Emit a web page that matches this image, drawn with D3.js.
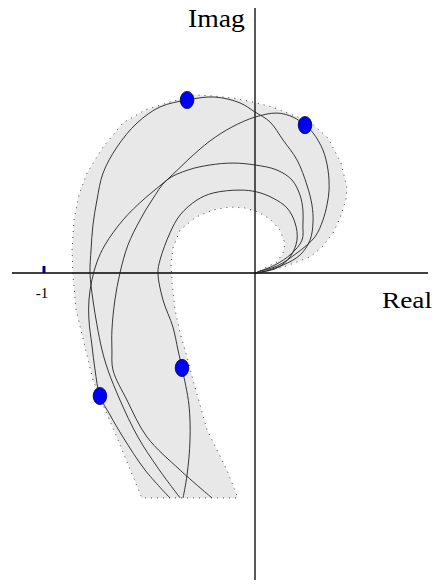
<!DOCTYPE html>
<html>
<head>
<meta charset="utf-8">
<script src="https://cdn.jsdelivr.net/npm/d3@7"></script>
<style>
  html, body { margin: 0; padding: 0; background: #fff; }
  svg { display: block; }
</style>
</head>
<body>
<svg id="chart" width="435" height="584"></svg>
<script>
// Nyquist plots of four plant cases with their value band, complex plane (Real, Imag)

const realExtent = [-1.152, 0.82];
const imagExtent = [-1.455, 1.256];
const tickValues = [-1];
const tickLabels = ["-1"];
const axisLabels = ["Real", "Imag"];

// Each curve: [re, im] from low to high frequency, ending at the origin
const curve1 = [
  [-0.355,-1.066],[-0.460,-0.924],[-0.555,-0.777],[-0.640,-0.602],[-0.697,-0.460],
  [-0.725,-0.365],[-0.749,-0.246],[-0.768,-0.128],[-0.782,0.000],[-0.777,0.109],
  [-0.768,0.227],[-0.749,0.346],[-0.720,0.474],[-0.654,0.597],[-0.559,0.711],
  [-0.450,0.787],[-0.322,0.820],[-0.190,0.834],[-0.071,0.806],[0.000,0.763],
  [0.071,0.716],[0.133,0.630],[0.199,0.536],[0.246,0.417],[0.270,0.322],
  [0.275,0.242],[0.261,0.156],[0.213,0.085],[0.133,0.038],[0.033,0.005],[0.005,0.000]
];
const curve2 = [
  [-0.403,-1.066],[-0.521,-0.934],[-0.626,-0.777],[-0.687,-0.673],[-0.735,-0.583],
  [-0.758,-0.460],[-0.773,-0.341],[-0.787,-0.223],[-0.787,-0.128],[-0.773,-0.033],
  [-0.749,0.052],[-0.711,0.133],[-0.626,0.251],[-0.521,0.355],[-0.417,0.441],
  [-0.318,0.536],[-0.213,0.626],[-0.109,0.692],[0.000,0.739],[0.104,0.758],
  [0.180,0.739],[0.237,0.701],[0.275,0.664],[0.322,0.583],[0.346,0.488],
  [0.351,0.393],[0.341,0.322],[0.322,0.251],[0.284,0.171],[0.199,0.095],
  [0.104,0.033],[0.014,0.005],[0.005,0.000]
];
const curve3 = [
  [-0.204,-1.066],[-0.355,-0.934],[-0.512,-0.777],[-0.607,-0.602],[-0.673,-0.460],
  [-0.678,-0.365],[-0.678,-0.270],[-0.664,-0.128],[-0.640,0.000],[-0.602,0.133],
  [-0.545,0.251],[-0.488,0.346],[-0.417,0.441],[-0.318,0.488],[-0.213,0.512],
  [-0.104,0.521],[0.000,0.512],[0.104,0.488],[0.175,0.441],[0.213,0.370],
  [0.227,0.299],[0.227,0.227],[0.223,0.156],[0.171,0.090],[0.095,0.038],
  [0.014,0.005],[0.005,0.000]
];
const curve4 = [
  [-0.341,-1.066],[-0.322,-0.957],[-0.308,-0.791],[-0.313,-0.626],[-0.346,-0.450],
  [-0.365,-0.365],[-0.389,-0.256],[-0.436,-0.128],[-0.460,0.000],[-0.450,0.062],
  [-0.403,0.190],[-0.355,0.275],[-0.275,0.346],[-0.199,0.379],[-0.071,0.393],
  [0.009,0.384],[0.085,0.355],[0.152,0.308],[0.190,0.237],[0.199,0.156],
  [0.166,0.076],[0.104,0.024],[0.009,0.000]
];
const curves = [curve1, curve2, curve3, curve4];

// Marked frequency points
const markers = [[-0.322,0.820],[0.237,0.701],[-0.346,-0.450],[-0.735,-0.583]];

// Outline of the value band: outer edge, bottom, then inner edge around the hole
const band = [
  [0.005,0.000],[0.033,0.005],[0.133,0.028],[0.261,0.076],[0.318,0.123],
  [0.370,0.190],[0.403,0.261],[0.431,0.346],[0.436,0.403],[0.408,0.521],
  [0.346,0.640],[0.261,0.716],[0.156,0.758],[0.081,0.787],[-0.009,0.810],
  [-0.104,0.829],[-0.199,0.839],[-0.284,0.844],[-0.403,0.810],[-0.521,0.773],
  [-0.626,0.711],[-0.720,0.597],[-0.796,0.474],[-0.834,0.370],[-0.858,0.251],
  [-0.867,0.109],[-0.863,-0.009],[-0.848,-0.175],[-0.810,-0.332],[-0.768,-0.507],
  [-0.716,-0.635],[-0.659,-0.768],[-0.597,-0.919],[-0.536,-1.066],
  [-0.081,-1.066],[-0.133,-0.934],[-0.227,-0.744],[-0.294,-0.507],[-0.322,-0.398],
  [-0.355,-0.284],[-0.379,-0.175],[-0.393,-0.047],[-0.398,0.038],[-0.389,0.118],
  [-0.355,0.204],[-0.280,0.265],[-0.199,0.299],[-0.118,0.313],[-0.047,0.308],
  [0.014,0.289],[0.071,0.256],[0.118,0.204],[0.142,0.142],[0.133,0.095],
  [0.104,0.052],[0.047,0.024]
];

const svg = d3.select("#chart");

// Equal scaling on both axes: one unit = 211 px
const x = d3.scaleLinear().domain([-1, 0]).range([44, 255]);
const y = d3.scaleLinear().domain([0, 1]).range([273, 62]);

// Band
const bandPath = d3.line().x(d => x(d[0])).y(d => y(d[1])).curve(d3.curveLinearClosed);
svg.append("path")
  .attr("d", bandPath(band))
  .attr("fill", "#e8e8e8")
  .attr("stroke", "#444")
  .attr("stroke-width", 1)
  .attr("stroke-dasharray", "1,5");

// Axes
svg.append("line")
  .attr("x1", x(realExtent[0])).attr("x2", x(realExtent[1]))
  .attr("y1", y(0)).attr("y2", y(0))
  .attr("stroke", "#000").attr("stroke-width", 1.3);
svg.append("line")
  .attr("x1", x(0)).attr("x2", x(0))
  .attr("y1", y(imagExtent[1])).attr("y2", y(imagExtent[0]))
  .attr("stroke", "#000").attr("stroke-width", 1.3);

// Critical point tick
svg.selectAll("rect.tick").data(tickValues).enter().append("rect")
  .attr("class", "tick")
  .attr("x", d => x(d) - 1.5).attr("y", y(0) - 7)
  .attr("width", 3).attr("height", 7)
  .attr("fill", "#000080");
svg.selectAll("text.tick").data(tickValues).enter().append("text")
  .attr("class", "tick")
  .attr("x", d => x(d) - 2).attr("y", y(0) + 25)
  .attr("text-anchor", "middle")
  .attr("font-family", "'Liberation Serif', 'DejaVu Serif', serif")
  .attr("font-size", 15)
  .text((d, i) => tickLabels[i]);

// Axis titles
svg.append("text")
  .attr("x", 432).attr("y", y(0) + 35)
  .attr("text-anchor", "end")
  .attr("font-family", "'Liberation Serif', 'DejaVu Serif', serif")
  .attr("font-size", 24)
  .attr("textLength", 50).attr("lengthAdjust", "spacingAndGlyphs")
  .text(axisLabels[0]);
svg.append("text")
  .attr("x", 245).attr("y", 27)
  .attr("text-anchor", "end")
  .attr("font-family", "'Liberation Serif', 'DejaVu Serif', serif")
  .attr("font-size", 25)
  .attr("textLength", 57).attr("lengthAdjust", "spacingAndGlyphs")
  .text(axisLabels[1]);

// Curves
const curveLine = d3.line().x(d => x(d[0])).y(d => y(d[1])).curve(d3.curveCatmullRom.alpha(0.5));
svg.selectAll("path.nyq").data(curves).enter().append("path")
  .attr("class", "nyq")
  .attr("d", curveLine)
  .attr("fill", "none")
  .attr("stroke", "#222")
  .attr("stroke-width", 0.9);

// Markers
svg.selectAll("ellipse.mark").data(markers).enter().append("ellipse")
  .attr("class", "mark")
  .attr("cx", d => x(d[0])).attr("cy", d => y(d[1]))
  .attr("rx", 6.8).attr("ry", 8.6)
  .attr("fill", "#0000ff")
  .attr("stroke", "#000044")
  .attr("stroke-width", 0.8);
</script>
</body>
</html>
